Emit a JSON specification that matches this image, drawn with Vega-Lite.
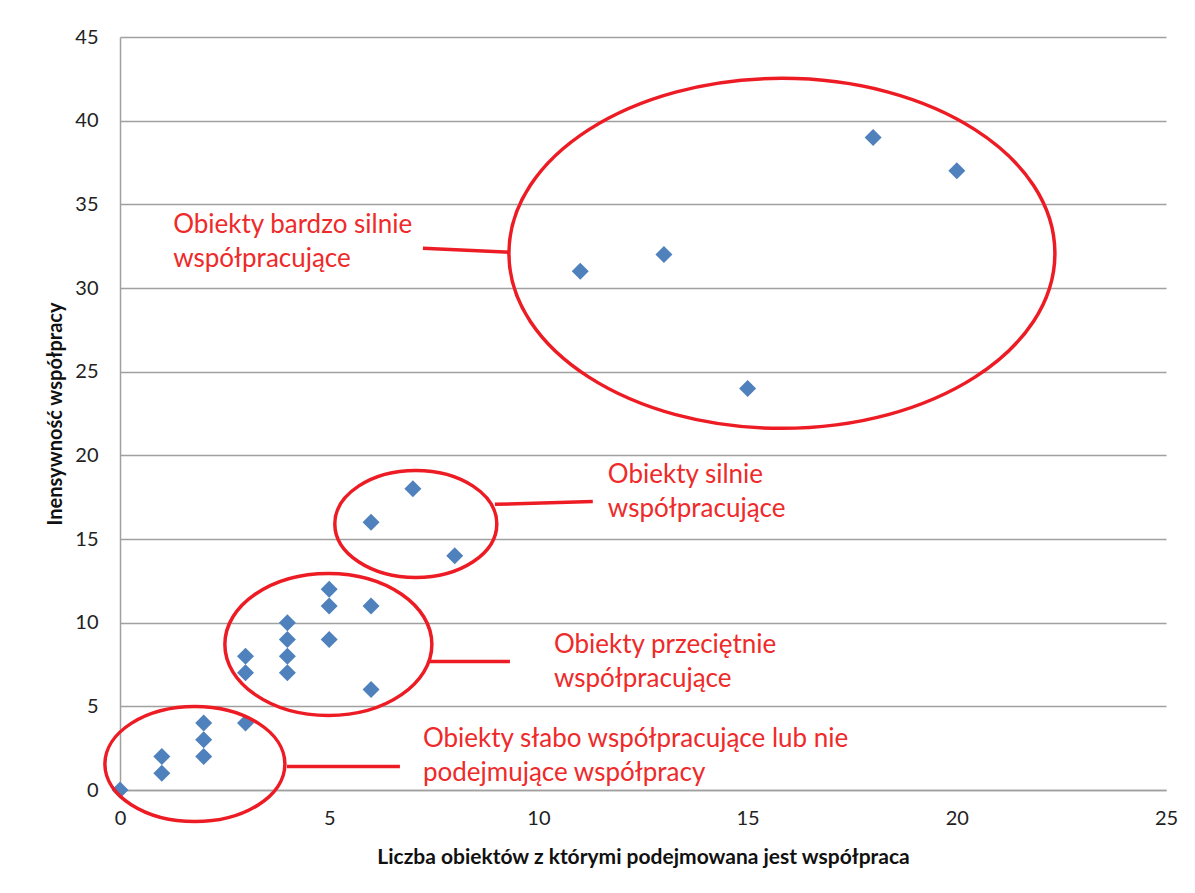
{
  "$schema": "https://vega.github.io/schema/vega-lite/v6.json",
  "width": 1046,
  "height": 753,
  "autosize": {"type": "none"},
  "padding": {"left": 120, "top": 37, "right": 29, "bottom": 103},
  "background": "white",
  "config": {"view": {"stroke": null}, "font": "Lato"},
  "datasets": {
    "points": [
      {"x": 0, "y": 0}, {"x": 1, "y": 1}, {"x": 1, "y": 2}, {"x": 2, "y": 2}, {"x": 2, "y": 3},
      {"x": 2, "y": 4}, {"x": 3, "y": 4}, {"x": 3, "y": 7}, {"x": 3, "y": 8}, {"x": 4, "y": 7},
      {"x": 4, "y": 8}, {"x": 4, "y": 9}, {"x": 4, "y": 10}, {"x": 5, "y": 9}, {"x": 5, "y": 11},
      {"x": 5, "y": 12}, {"x": 6, "y": 11}, {"x": 6, "y": 6}, {"x": 6, "y": 16}, {"x": 7, "y": 18},
      {"x": 8, "y": 14}, {"x": 11, "y": 31}, {"x": 13, "y": 32}, {"x": 15, "y": 24}, {"x": 18, "y": 39},
      {"x": 20, "y": 37}
    ],
    "groups": [
      {"group": "bardzo", "x": 15.82, "y": 32.07},
      {"group": "silnie", "x": 7.07, "y": 15.9},
      {"group": "przecietnie", "x": 4.98, "y": 8.7},
      {"group": "slabo", "x": 1.79, "y": 1.55}
    ],
    "connectors": [
      {"x": 7.24, "y": 32.37, "x2": 9.32, "y2": 32.13},
      {"x": 8.96, "y": 17.07, "x2": 11.3, "y2": 17.24},
      {"x": 7.41, "y": 7.68, "x2": 9.32, "y2": 7.68},
      {"x": 3.99, "y": 1.4, "x2": 6.69, "y2": 1.4}
    ],
    "labels": [
      {"x": 1.27, "y": 33.26, "label": "Obiekty bardzo silnie\nwspółpracujące"},
      {"x": 11.66, "y": 18.32, "label": "Obiekty silnie\nwspółpracujące"},
      {"x": 10.37, "y": 8.16, "label": "Obiekty przeciętnie\nwspółpracujące"},
      {"x": 7.24, "y": 2.54, "label": "Obiekty słabo współpracujące lub nie\npodejmujące współpracy"}
    ]
  },
  "encoding": {
    "x": {
      "field": "x", "type": "quantitative",
      "scale": {"domain": [0, 25], "nice": false, "zero": false},
      "axis": {
        "title": "Liczba obiektów z którymi podejmowana jest współpraca",
        "values": [0, 5, 10, 15, 20, 25],
        "grid": false, "ticks": false,
        "domainColor": "#a0a0a0", "domainWidth": 1.5,
        "labelFont": "Lato", "labelFontSize": 20, "labelColor": "#222222",
        "labelPadding": 18, "labelFlush": false, "labelOverlap": false,
        "titleFont": "Lato", "titleFontSize": 21, "titleFontWeight": "bold", "titleColor": "#111111",
        "titleBaseline": "middle", "titleY": 67
      }
    },
    "y": {
      "field": "y", "type": "quantitative",
      "scale": {"domain": [0, 45], "nice": false, "zero": false},
      "axis": {
        "title": "Inensywność współpracy",
        "values": [0, 5, 10, 15, 20, 25, 30, 35, 40, 45],
        "grid": true, "gridColor": "#a0a0a0", "gridWidth": 1.5,
        "ticks": false,
        "domainColor": "#a0a0a0", "domainWidth": 1.5,
        "labelFont": "Lato", "labelFontSize": 20, "labelColor": "#222222",
        "labelPadding": 22, "labelOverlap": false,
        "titleFont": "Lato", "titleFontSize": 20, "titleFontWeight": "bold", "titleColor": "#111111",
        "titleAngle": -90, "titleAlign": "center", "titleBaseline": "middle",
        "titleX": -65, "titleY": 376.5
      }
    }
  },
  "layer": [
    {
      "data": {"name": "points"},
      "mark": {"type": "point", "shape": "diamond", "filled": true, "color": "#4F81BD", "size": 289, "opacity": 1, "clip": false}
    },
    {
      "data": {"name": "groups"},
      "transform": [{"filter": "datum.group == 'bardzo'"}],
      "mark": {"type": "point", "filled": false, "color": "#ED1C24", "strokeWidth": 3.5, "opacity": 1, "clip": false,
        "size": 298116,
        "shape": "M -1 0 C -1 -0.354 -0.5523 -0.641 0 -0.641 C 0.5523 -0.641 1 -0.354 1 0 C 1 0.354 0.5523 0.641 0 0.641 C -0.5523 0.641 -1 0.354 -1 0 Z"}
    },
    {
      "data": {"name": "groups"},
      "transform": [{"filter": "datum.group == 'silnie'"}],
      "mark": {"type": "point", "filled": false, "color": "#ED1C24", "strokeWidth": 3.5, "opacity": 1, "clip": false,
        "size": 26244,
        "shape": "M -1 0 C -1 -0.3645 -0.5523 -0.66 0 -0.66 C 0.5523 -0.66 1 -0.3645 1 0 C 1 0.3645 0.5523 0.66 0 0.66 C -0.5523 0.66 -1 0.3645 -1 0 Z"}
    },
    {
      "data": {"name": "groups"},
      "transform": [{"filter": "datum.group == 'przecietnie'"}],
      "mark": {"type": "point", "filled": false, "color": "#ED1C24", "strokeWidth": 3.5, "opacity": 1, "clip": false,
        "size": 42849,
        "shape": "M -1 0 C -1 -0.3789 -0.5523 -0.686 0 -0.686 C 0.5523 -0.686 1 -0.3789 1 0 C 1 0.3789 0.5523 0.686 0 0.686 C -0.5523 0.686 -1 0.3789 -1 0 Z"}
    },
    {
      "data": {"name": "groups"},
      "transform": [{"filter": "datum.group == 'slabo'"}],
      "mark": {"type": "point", "filled": false, "color": "#ED1C24", "strokeWidth": 3.5, "opacity": 1, "clip": false,
        "size": 32400,
        "shape": "M -1 0 C -1 -0.3529 -0.5523 -0.639 0 -0.639 C 0.5523 -0.639 1 -0.3529 1 0 C 1 0.3529 0.5523 0.639 0 0.639 C -0.5523 0.639 -1 0.3529 -1 0 Z"}
    },
    {
      "data": {"name": "connectors"},
      "mark": {"type": "rule", "color": "#ED1C24", "strokeWidth": 3.5, "clip": false},
      "encoding": {
        "x2": {"field": "x2"},
        "y2": {"field": "y2"}
      }
    },
    {
      "data": {"name": "labels"},
      "mark": {"type": "text", "align": "left", "baseline": "alphabetic", "font": "Lato", "fontSize": 26,
        "color": "#EE2A2A", "lineHeight": 34, "lineBreak": "\n", "clip": false},
      "encoding": {
        "text": {"field": "label", "type": "nominal"}
      }
    }
  ]
}
